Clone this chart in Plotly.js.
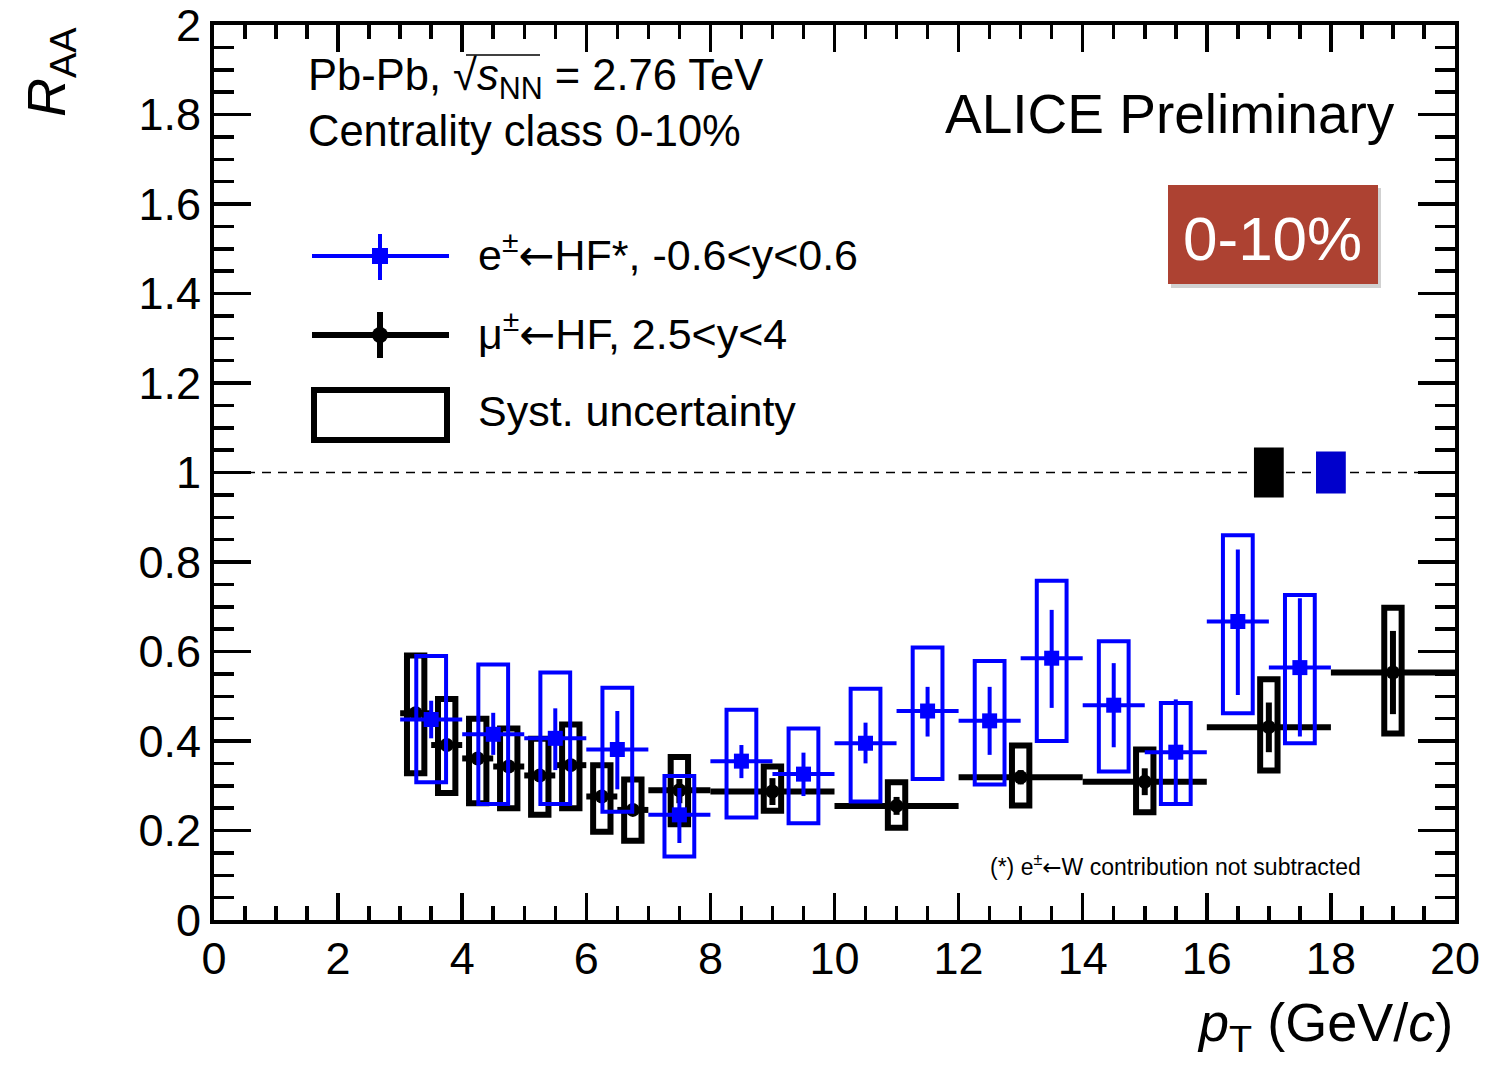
<!DOCTYPE html>
<html><head><meta charset="utf-8">
<script src="https://cdn.plot.ly/plotly-3.0.1.min.js"></script>
<style>body{margin:0;background:#fff}</style>
</head><body>
<div id="chart" style="width:1485px;height:1068px"></div>
<script>
// ---------------- data ----------------
// electrons from heavy-flavour decays, -0.6<y<0.6
const e_pt      = [3.5, 4.5, 5.5, 6.5, 7.5, 8.5, 9.5, 10.5, 11.5, 12.5, 13.5, 14.5, 15.5, 16.5, 17.5];
const e_pt_err  = [0.5, 0.5, 0.5, 0.5, 0.5, 0.5, 0.5, 0.5, 0.5, 0.5, 0.5, 0.5, 0.5, 0.5, 0.5];
const e_raa     = [0.448, 0.415, 0.406, 0.381, 0.235, 0.355, 0.326, 0.395, 0.467, 0.445, 0.585, 0.480, 0.375, 0.667, 0.564];
const e_stat_hi = [0.490, 0.463, 0.473, 0.467, 0.295, 0.391, 0.374, 0.441, 0.521, 0.521, 0.693, 0.574, 0.493, 0.828, 0.719];
const e_stat_lo = [0.406, 0.369, 0.335, 0.292, 0.172, 0.317, 0.277, 0.350, 0.410, 0.369, 0.474, 0.386, 0.255, 0.503, 0.410];
const e_syst_hi = [0.590, 0.571, 0.553, 0.519, 0.322, 0.470, 0.428, 0.517, 0.609, 0.579, 0.758, 0.623, 0.485, 0.860, 0.726];
const e_syst_lo = [0.308, 0.259, 0.259, 0.242, 0.142, 0.229, 0.216, 0.265, 0.315, 0.303, 0.400, 0.332, 0.259, 0.462, 0.395];

// muons from heavy-flavour decays, 2.5<y<4
const m_pt      = [3.25, 3.75, 4.25, 4.75, 5.25, 5.75, 6.25, 6.75, 7.5, 9, 11, 13, 15, 17, 19];
const m_pt_err  = [0.25, 0.25, 0.25, 0.25, 0.25, 0.25, 0.25, 0.25, 0.5, 1, 1, 1, 1, 1, 1];
const m_raa     = [0.462, 0.391, 0.361, 0.343, 0.323, 0.346, 0.276, 0.246, 0.290, 0.287, 0.255, 0.319, 0.309, 0.431, 0.553];
const m_stat_hi = [0.472, 0.400, 0.370, 0.352, 0.332, 0.355, 0.285, 0.255, 0.315, 0.317, 0.275, 0.335, 0.339, 0.486, 0.646];
const m_stat_lo = [0.452, 0.382, 0.352, 0.334, 0.314, 0.337, 0.267, 0.237, 0.261, 0.257, 0.235, 0.303, 0.279, 0.375, 0.460];
const m_syst_hi = [0.591, 0.494, 0.450, 0.428, 0.405, 0.437, 0.346, 0.314, 0.364, 0.343, 0.308, 0.390, 0.381, 0.538, 0.698];
const m_syst_lo = [0.328, 0.284, 0.261, 0.250, 0.235, 0.250, 0.197, 0.177, 0.214, 0.244, 0.206, 0.256, 0.241, 0.334, 0.417];

// normalisation uncertainties drawn at R_AA = 1
const norm_names = ["muon", "electron"];
const norm_pt    = [17, 18];
const norm_unc   = [0.056, 0.047];

const ref_level = 1;
const x_range = [0, 20];
const y_range = [0, 2];
const x_ticks = [0, 2, 4, 6, 8, 10, 12, 14, 16, 18, 20];
const y_ticks = [0, 0.2, 0.4, 0.6, 0.8, 1, 1.2, 1.4, 1.6, 1.8, 2];
const y_tick_labels = ["0", "0.2", "0.4", "0.6", "0.8", "1", "1.2", "1.4", "1.6", "1.8", "2"];

// ---------------- helpers ----------------
const W = 1485, H = 1068;
const M = {l: 214, r: 30, t: 25, b: 148};
const PW = W - M.l - M.r, PH = H - M.t - M.b;
const px = v => (v - M.l) / PW;          // pixel -> paper x
const py = v => (H - M.b - v) / PH;      // pixel -> paper y

function boxTrace(xs, lo, hi, hw, color, width) {
  const X = [], Y = [];
  xs.forEach((x, i) => {
    X.push(x - hw, x + hw, x + hw, x - hw, x - hw, x + hw, null);
    Y.push(lo[i], lo[i], hi[i], hi[i], lo[i], lo[i], null);
  });
  return {x: X, y: Y, type: 'scatter', mode: 'lines', hoverinfo: 'skip', showlegend: false,
          line: {color: color, width: width}, connectgaps: false};
}
function pointTrace(xs, xerr, ys, hi, lo, color, width, symbol, size) {
  return {
    x: xs, y: ys, type: 'scatter', mode: 'markers', showlegend: false,
    marker: {color: color, symbol: symbol, size: size, line: {width: 0}},
    error_x: {type: 'data', array: xerr, symmetric: true, color: color, thickness: width, width: 0},
    error_y: {type: 'data', array: hi.map((h, i) => h - ys[i]), arrayminus: lo.map((l, i) => ys[i] - l),
              symmetric: false, color: color, thickness: width, width: 0}
  };
}
function normTrace(i, color) {
  const x = norm_pt[i], u = norm_unc[i], hw = 0.24;
  return {x: [x - hw, x + hw, x + hw, x - hw, x - hw], y: [ref_level - u, ref_level - u, ref_level + u, ref_level + u, ref_level - u],
          type: 'scatter', mode: 'lines', fill: 'toself', fillcolor: color, line: {width: 0, color: color},
          hoverinfo: 'skip', showlegend: false, name: norm_names[i]};
}

const BLUE = '#0000ff', BLACK = '#000000';
const traces = [
  {x: x_range, y: [ref_level, ref_level], type: 'scatter', mode: 'lines', hoverinfo: 'skip', showlegend: false,
   line: {color: 'black', width: 1.5, dash: '9px,7px'}},
  boxTrace(m_pt, m_syst_lo, m_syst_hi, 0.14, BLACK, 6),
  pointTrace(m_pt, m_pt_err, m_raa, m_stat_hi, m_stat_lo, BLACK, 6, 'circle', 14),
  boxTrace(e_pt, e_syst_lo, e_syst_hi, 0.24, BLUE, 4),
  pointTrace(e_pt, e_pt_err, e_raa, e_stat_hi, e_stat_lo, BLUE, 4, 'square', 15),
  normTrace(0, '#000000'),
  normTrace(1, '#0000cc')
];

const FONT = 'Liberation Sans, Arial, Helvetica, sans-serif';
const ARROW = '<span style="font-family:DejaVu Sans">←</span>';
const annotations = [
  {text: 'Pb-Pb, √<i>s</i><sub>NN</sub> = 2.76 TeV', x: px(306), y: py(78), xanchor: 'left', yanchor: 'middle', size: 43.5},
  {text: 'Centrality class 0-10%', x: px(306), y: py(131), xanchor: 'left', yanchor: 'middle', size: 43.5},
  {text: 'ALICE Preliminary', x: px(1397), y: py(114), xanchor: 'right', yanchor: 'middle', size: 55},
  {text: '0-10%', x: px(1272), y: py(238), xanchor: 'center', yanchor: 'middle', size: 62, color: '#ffffff'},
  {text: 'e<sup>±</sup>' + ARROW + 'HF*, -0.6&lt;y&lt;0.6', x: px(476), y: py(253), xanchor: 'left', yanchor: 'middle', size: 43},
  {text: 'μ<sup>±</sup>' + ARROW + 'HF, 2.5&lt;y&lt;4', x: px(476), y: py(331), xanchor: 'left', yanchor: 'middle', size: 43},
  {text: 'Syst. uncertainty', x: px(476), y: py(411), xanchor: 'left', yanchor: 'middle', size: 43},
  {text: '(*) e<sup>±</sup>' + ARROW + 'W contribution not subtracted', x: px(988), y: py(865), xanchor: 'left', yanchor: 'middle', size: 23},
  {text: '<i>R</i><sub>AA</sub>', x: px(50), y: py(72), xanchor: 'center', yanchor: 'middle', size: 54, textangle: -90},
  {text: '<i>p</i><sub>T</sub> (GeV/<i>c</i>)', x: px(1455), y: py(1026), xanchor: 'right', yanchor: 'middle', size: 54}
].map(a => ({text: a.text, x: a.x, y: a.y, xref: 'paper', yref: 'paper', xanchor: a.xanchor, yanchor: a.yanchor,
             showarrow: false, textangle: a.textangle || 0,
             font: {family: FONT, size: a.size, color: a.color || '#000'}}));

const sq = 8; // legend marker half size (px)
const shapes = [
  // red centrality badge
  {type: 'rect', xref: 'paper', yref: 'paper', x0: px(1171), x1: px(1381), y0: py(288), y1: py(188),
   fillcolor: 'rgba(0,0,0,0.18)', line: {width: 0}, layer: 'below'},
  {type: 'rect', xref: 'paper', yref: 'paper', x0: px(1168), x1: px(1378), y0: py(284), y1: py(185),
   fillcolor: '#ad4232', line: {width: 0}},
  // sqrt overline
  {type: 'line', xref: 'paper', yref: 'paper', x0: px(466), x1: px(540), y0: py(55), y1: py(55), line: {color: 'black', width: 1.5}},
  // legend: electrons
  {type: 'line', xref: 'paper', yref: 'paper', x0: px(312), x1: px(449), y0: py(256), y1: py(256), line: {color: BLUE, width: 4}},
  {type: 'line', xref: 'paper', yref: 'paper', x0: px(380), x1: px(380), y0: py(234), y1: py(280), line: {color: BLUE, width: 4}},
  {type: 'rect', xref: 'paper', yref: 'paper', x0: px(380 - sq), x1: px(380 + sq), y0: py(256 + sq), y1: py(256 - sq), fillcolor: BLUE, line: {width: 0}},
  // legend: muons
  {type: 'line', xref: 'paper', yref: 'paper', x0: px(312), x1: px(449), y0: py(335), y1: py(335), line: {color: BLACK, width: 6}},
  {type: 'line', xref: 'paper', yref: 'paper', x0: px(380), x1: px(380), y0: py(312), y1: py(358), line: {color: BLACK, width: 6}},
  {type: 'circle', xref: 'paper', yref: 'paper', x0: px(380 - sq), x1: px(380 + sq), y0: py(335 + sq), y1: py(335 - sq), fillcolor: BLACK, line: {width: 0}},
  // legend: syst box
  {type: 'rect', xref: 'paper', yref: 'paper', x0: px(314), x1: px(447), y0: py(440), y1: py(390), line: {color: BLACK, width: 6}}
];

const axisCommon = {
  showgrid: false, zeroline: false, showline: true, linecolor: 'black', linewidth: 4,
  mirror: 'ticks', ticks: 'inside', tickcolor: 'black', tickwidth: 3.5, ticklabeloverflow: 'allow',
  tickfont: {family: FONT, size: 45, color: '#000'}
};
const layout = {
  width: W, height: H, margin: M, paper_bgcolor: '#fff', plot_bgcolor: '#fff',
  font: {family: FONT, color: '#000'}, showlegend: false,
  xaxis: Object.assign({}, axisCommon, {range: x_range, tickmode: 'array', tickvals: x_ticks,
    ticktext: x_ticks.map(String), ticklen: 27, ticklabelstandoff: -4,
    minor: {ticks: 'inside', tickmode: 'linear', tick0: 0, dtick: 0.5, ticklen: 14, tickwidth: 3.5, tickcolor: 'black'}}),
  yaxis: Object.assign({}, axisCommon, {range: y_range, tickmode: 'array', tickvals: y_ticks,
    ticktext: y_tick_labels, ticklen: 37,
    minor: {ticks: 'inside', tickmode: 'linear', tick0: 0, dtick: 0.05, ticklen: 20, tickwidth: 3.5, tickcolor: 'black'}}),
  annotations: annotations, shapes: shapes
};
Plotly.newPlot('chart', traces, layout, {staticPlot: true, displayModeBar: false});
</script>
</body></html>
